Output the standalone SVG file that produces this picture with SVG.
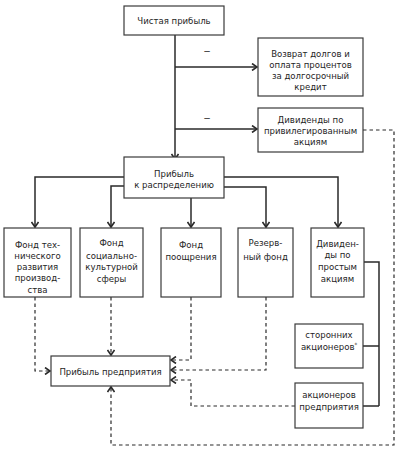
<svg xmlns="http://www.w3.org/2000/svg" width="402" height="450" viewBox="0 0 402 450">
<defs>
<marker id="arr" markerWidth="8" markerHeight="8" refX="6" refY="4" orient="auto" markerUnits="userSpaceOnUse">
<path d="M1,0.5 L6,4 L1,7.5" fill="none" stroke="#2a2a2a" stroke-width="1.6"/>
</marker>
</defs>
<style>
rect{fill:#fff;stroke:#3a3a3a;stroke-width:1.2}
text{font-family:"DejaVu Sans Condensed","Liberation Sans",Arial,sans-serif;font-stretch:condensed;font-size:9.5px;fill:#1e1e1e;text-anchor:middle}
text.m{font-family:"Liberation Sans",Arial,sans-serif;font-stretch:normal;font-size:10px}
.c{fill:none;stroke:#2a2a2a;stroke-width:1.5}
.a{marker-end:url(#arr)}
.d{fill:none;stroke:#2a2a2a;stroke-width:1.2;stroke-dasharray:3.5,3}
</style>
<rect x="0" y="0" width="402" height="450" style="fill:#fff;stroke:none"/>
<g id="connectors">
<path class="c a" d="M175,35 V159"/>
<path class="c a" d="M175,67 H257"/>
<path class="c a" d="M175,129 H257"/>
<path class="c a" d="M124,177 H35 V227"/>
<path class="c a" d="M124,186 H111 V227"/>
<path class="c a" d="M191,198 V227"/>
<path class="c a" d="M224,187 H266 V227"/>
<path class="c a" d="M224,177 H338 V227"/>
<path class="c" d="M364,262 H379 V406 M363,346 H379 M363,406 H379"/>
<path class="d a" d="M35,297 V371 H50"/>
<path class="d a" d="M111,297 V355"/>
<path class="d a" d="M191,297 V360 H171"/>
<path class="d a" d="M266,297 V370 H171"/>
<path class="d a" d="M295,406 H191 V380 H171"/>
<path class="d a" d="M363,130 H394 V445 H111 V387"/>
<text class="m" x="207" y="54">–</text>
<text class="m" x="207" y="121">–</text>
</g>
<g id="n-chistaya"><rect x="124" y="6" width="100" height="29"/><text x="174" y="24">Чистая прибыль</text></g>
<g id="n-vozvrat"><rect x="258" y="38" width="105" height="58"/><text x="310.5" y="56.5">Возврат долгов и</text><text x="310.5" y="67.8">оплата процентов</text><text x="310.5" y="79.1">за долгосрочный</text><text x="310.5" y="90.4">кредит</text></g>
<g id="n-privileg"><rect x="258" y="108" width="105" height="44"/><text x="310.5" y="122.8">Дивиденды по</text><text x="310.5" y="134">привилегированным</text><text x="310.5" y="145.3">акциям</text></g>
<g id="n-raspred"><rect x="124" y="157" width="100" height="41"/><text x="174" y="176.5">Прибыль</text><text x="174" y="187.8">к распределению</text></g>
<g id="n-tech"><rect x="4" y="228" width="67" height="69"/><text x="37.5" y="247.5">Фонд тех-</text><text x="37.5" y="258.8">нического</text><text x="37.5" y="270.1">развития</text><text x="37.5" y="281.4">производ-</text><text x="37.5" y="292.7">ства</text></g>
<g id="n-social"><rect x="80" y="228" width="63" height="69"/><text x="111.5" y="246.3">Фонд</text><text x="111.5" y="258.6">социально-</text><text x="111.5" y="270">культурной</text><text x="111.5" y="281.6">сферы</text></g>
<g id="n-pooshch"><rect x="161" y="228" width="60" height="69"/><text x="191" y="247.8">Фонд</text><text x="191" y="260">поощрения</text></g>
<g id="n-rezerv"><rect x="238" y="228" width="55" height="69"/><text x="265.5" y="246.3">Резерв-</text><text x="265.5" y="259.5">ный фонд</text></g>
<g id="n-divid"><rect x="311" y="228" width="53" height="69"/><text x="337.5" y="246.8">Дивиден-</text><text x="337.5" y="258.2">ды по</text><text x="337.5" y="269.8">простым</text><text x="337.5" y="281.5">акциям</text></g>
<g id="n-storon"><rect x="295" y="324" width="68" height="44"/><text x="329" y="337.5">сторонних</text><text x="329" y="350.2">акционеров<tspan font-size="6" dy="-3">*</tspan></text></g>
<g id="n-akc"><rect x="295" y="383" width="68" height="45"/><text x="329" y="397.8">акционеров</text><text x="329" y="410.2">предприятия</text></g>
<g id="n-pribyl"><rect x="51" y="356" width="119" height="30"/><text x="110.5" y="374.5">Прибыль предприятия</text></g>
</svg>
